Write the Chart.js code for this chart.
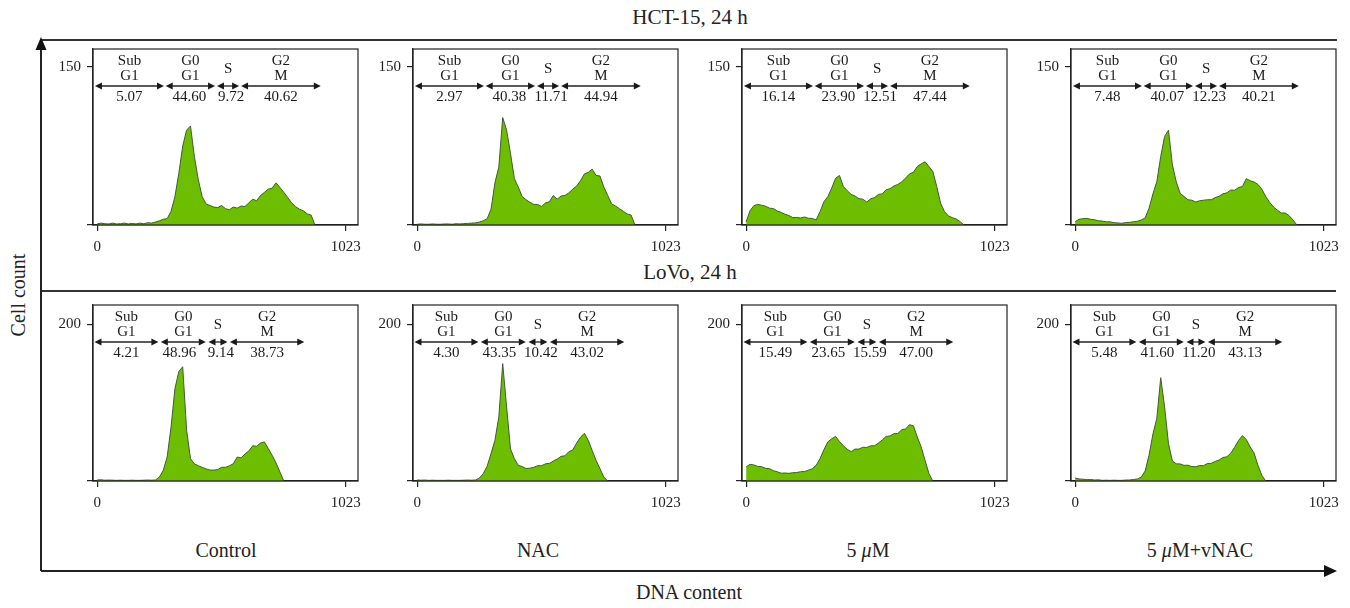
<!DOCTYPE html>
<html>
<head>
<meta charset="utf-8">
<script src="https://cdn.jsdelivr.net/npm/chart.js@4.4.1/dist/chart.umd.min.js"></script>
<style>
  body { margin: 0; width: 1350px; height: 608px; position: relative; overflow: hidden; background: #fff;
         font-family: "Liberation Serif", "DejaVu Serif", serif; color: #222; }
  canvas { position: absolute; }
  .txt { position: absolute; transform: translate(-50%, -50%); white-space: nowrap; font-size: 20px; }
  #frame { position: absolute; left: 0; top: 0; }
</style>
</head>
<body>
<svg id="frame" width="1350" height="608">
  <line x1="41" y1="40" x2="1337" y2="40" stroke="#333" stroke-width="1.8"/>
  <line x1="41" y1="291" x2="1336" y2="291" stroke="#333" stroke-width="1.8"/>
  <line x1="41" y1="571" x2="41" y2="48" stroke="#222" stroke-width="2"/>
  <polygon points="41,37 35.5,50 46.5,50" fill="#111"/>
  <line x1="41" y1="571" x2="1326" y2="571" stroke="#222" stroke-width="2"/>
  <polygon points="1337,571 1324,565 1324,577" fill="#111"/>
</svg>
<div class="txt" style="left:690px; top:17px; font-size:21px">HCT-15, 24 h</div>
<div class="txt" style="left:690px; top:272px; font-size:21px">LoVo, 24 h</div>
<div class="txt" style="left:18px; top:295px; transform: translate(-50%, -50%) rotate(-90deg)">Cell count</div>
<div class="txt" style="left:689px; top:592px">DNA content</div>
<div class="txt" style="left:226px; top:550px">Control</div>
<div class="txt" style="left:538px; top:550px">NAC</div>
<div class="txt" style="left:868px; top:550px">5 <i>μ</i>M</div>
<div class="txt" style="left:1200px; top:550px">5 <i>μ</i>M+vNAC</div>

<script>
// DNA channel grid (every 16 channels)
const channels = [0, 16, 32, 48, 64, 80, 96, 112, 128, 144, 160, 176, 192, 208, 224, 240, 256, 272, 288,
  304, 320, 336, 352, 368, 384, 400, 416, 432, 448, 464, 480, 496, 512, 528, 544, 560, 576, 592, 608,
  624, 640, 656, 672, 688, 704, 720, 736, 752, 768, 784, 800, 816, 832, 848, 864, 880, 896, 912];

// HCT-15 histograms (cell count per channel)
const hctControl = [1, 1.8, 1.2, 1, 1.8, 1, 1.2, 1.8, 1, 1.5, 1, 1.8, 1.2, 2.2, 1.8, 2.8, 4, 5.5, 6,
  13, 27, 49, 75, 90, 94, 65, 43, 27, 20, 18.5, 17, 16.5, 18.5, 15.5, 14.5, 17, 16, 18, 17.5,
  21, 24.5, 23, 28, 31, 34, 35, 40, 35.5, 31, 26, 21, 17.5, 15, 13.5, 10.5, 9.5, 0];
const hctNac = [0.7, 1, 0.7, 0.7, 1, 0.7, 0.7, 1, 1, 0.7, 1.2, 1, 1.3, 1.5, 1.8, 2, 2.8, 4, 6,
  15, 40, 55, 102, 90, 68, 44, 36, 27, 24, 21.5, 19.5, 19.5, 17.5, 21, 22, 28, 24.5, 27.5, 28,
  30.5, 34, 37, 42, 48.5, 50, 53, 47, 46.5, 36, 28, 20, 18, 15.5, 13, 10.5, 9.5, 0];
const hct5uM = [3, 13.6, 18.4, 19.5, 18.8, 17.8, 16, 15.6, 13.2, 12, 10.2, 9, 7, 7.2, 6.6, 7.6, 6.4, 6.2, 4.8,
  12.7, 22, 27, 35, 44.4, 47, 36.5, 32.5, 29, 27.5, 25, 24.5, 21.8, 24.8, 26, 29, 29.5, 33.5, 34.5, 37,
  38.5, 41, 44.5, 48.5, 50, 55.5, 58, 60, 55.5, 50.7, 36.5, 20.6, 12.7, 8.6, 7, 5.7, 3.2, 0];
const hct5uMNac = [3.2, 5.4, 6, 6.3, 5.4, 5, 4, 3.7, 3, 3, 2.2, 2, 1.6, 2.4, 2.5, 3.1, 3.5, 4.8, 6.7,
  15.9, 29.5, 41, 65, 84, 90, 57, 41, 30, 27, 24, 23.5, 21.8, 23, 23.5, 24, 24, 26, 27.2, 29.6,
  30.5, 33.2, 33, 35.5, 36.5, 44, 42, 40.8, 38.5, 34, 27, 21.5, 17, 14, 11.4, 11.4, 8.9, 4.8, 0];

// LoVo histograms
const lovoControl = [1.3, 1.5, 1, 1.2, 1, 0.8, 1, 0.8, 0.8, 1, 0.8, 0.8, 1, 1.2, 1, 1.3, 5, 13.6, 30.7,
  69, 118, 140, 146, 65, 28.6, 22, 19.5, 17.5, 15.5, 14, 14, 14.5, 17.5, 17.5, 19.5, 22, 30.7, 29.5, 34.5,
  38.5, 45, 44.5, 48.5, 50, 41.4, 32.8, 23, 11.5, 0];
const lovoNac = [1.3, 1, 1.2, 0.8, 1, 0.8, 0.8, 0.8, 1, 0.8, 0.8, 0.8, 1, 1.2, 1, 1.3, 3.8, 9.4, 19,
  35, 52, 82, 150, 94.6, 41, 28.6, 20, 18.5, 16, 16.4, 17.5, 19.6, 19.5, 22, 22.5, 25.5, 28, 31.5, 32.2,
  37.5, 39.5, 48.5, 56, 61, 52, 39, 26.4, 15.8, 5, 0];
const lovo5uM = [18, 21.3, 20.5, 18.6, 18.3, 16.2, 15.8, 13.2, 11.8, 10, 10.2, 9.8, 10.6, 10.8, 11.9, 12.1, 13.9, 15.6, 20,
  28.6, 40, 50, 54, 57, 50.5, 45, 40.5, 37.5, 40.8, 40.8, 43.2, 42.8, 45, 45, 48.5, 52.5, 57, 57.6, 60.5,
  60.8, 65.5, 66.5, 72, 70.5, 56.3, 43.5, 26.4, 9.4, 0];
const lovo5uMNac = [3.8, 2.6, 2.3, 1.7, 1.9, 1.3, 1.5, 0.8, 1, 0.8, 1, 0.8, 0.8, 1.2, 1.3, 1.9, 2.6, 5, 12.8,
  33, 60, 80, 132, 94.7, 47.8, 25.6, 22, 21.8, 20, 20.2, 18.4, 18.2, 19.8, 19.6, 22.4, 22.6, 25, 26.8, 30,
  31, 35.5, 43, 51.8, 58, 53, 43.5, 35.8, 20, 7.2, 0];

// gates (channel ranges) and phase names
const phaseNames = [['Sub', 'G1'], ['G0', 'G1'], ['S'], ['G2', 'M']];
const hctGates = [[-9, 275], [282, 485], [493, 584], [592, 920]];
const lovoGates = [[-11, 252], [262, 447], [458, 536], [546, 852]];

// phase percentages
const hctControlPct = ['5.07', '44.60', '9.72', '40.62'];
const hctNacPct = ['2.97', '40.38', '11.71', '44.94'];
const hct5uMPct = ['16.14', '23.90', '12.51', '47.44'];
const hct5uMNacPct = ['7.48', '40.07', '12.23', '40.21'];
const lovoControlPct = ['4.21', '48.96', '9.14', '38.73'];
const lovoNacPct = ['4.30', '43.35', '10.42', '43.02'];
const lovo5uMPct = ['15.49', '23.65', '15.59', '47.00'];
const lovo5uMNacPct = ['5.48', '41.60', '11.20', '43.13'];

const hctYTick = 150, hctYMax = 167;
const lovoYTick = 200, lovoYMax = 225;

const boxLefts = [93, 413, 742, 1071];
const BOX_W = 265, BOX_H = 176;
const FONT = '"Liberation Serif", "DejaVu Serif", serif';
// small horizontal nudges of the percentage labels, as in the original layout
const hctValueShift = [0, -1, 3, 0];
const lovoValueShift = [0, -4, 3, 0];

const panels = [
  { values: hctControl, pct: hctControlPct, gates: hctGates, shift: hctValueShift, tick: hctYTick, ymax: hctYMax, col: 0, top: 49 },
  { values: hctNac, pct: hctNacPct, gates: hctGates, shift: hctValueShift, tick: hctYTick, ymax: hctYMax, col: 1, top: 49 },
  { values: hct5uM, pct: hct5uMPct, gates: hctGates, shift: hctValueShift, tick: hctYTick, ymax: hctYMax, col: 2, top: 49 },
  { values: hct5uMNac, pct: hct5uMNacPct, gates: hctGates, shift: hctValueShift, tick: hctYTick, ymax: hctYMax, col: 3, top: 49 },
  { values: lovoControl, pct: lovoControlPct, gates: lovoGates, shift: lovoValueShift, tick: lovoYTick, ymax: lovoYMax, col: 0, top: 305 },
  { values: lovoNac, pct: lovoNacPct, gates: lovoGates, shift: lovoValueShift, tick: lovoYTick, ymax: lovoYMax, col: 1, top: 305 },
  { values: lovo5uM, pct: lovo5uMPct, gates: lovoGates, shift: lovoValueShift, tick: lovoYTick, ymax: lovoYMax, col: 2, top: 305 },
  { values: lovo5uMNac, pct: lovo5uMNacPct, gates: lovoGates, shift: lovoValueShift, tick: lovoYTick, ymax: lovoYMax, col: 3, top: 305 }
];

// box around plot + gate arrows and labels
const gatePlugin = {
  id: 'gates',
  afterDatasetsDraw(chart, args, opts) {
    const { ctx, chartArea, scales } = chart;
    const top = chartArea.top;
    ctx.save();
    ctx.strokeStyle = '#222';
    ctx.lineWidth = 1.2;
    ctx.strokeRect(chartArea.left, chartArea.top, chartArea.right - chartArea.left, chartArea.bottom - chartArea.top);

    ctx.fillStyle = '#1a1a1a';
    ctx.font = `15px ${FONT}`;
    ctx.textAlign = 'center';
    ctx.textBaseline = 'middle';
    opts.gates.forEach((g, i) => {
      const x1 = scales.x.getPixelForValue(g[0]);
      const x2 = scales.x.getPixelForValue(g[1]);
      const cx = (x1 + x2) / 2;
      const y = top + 37;
      const names = phaseNames[i];
      if (names.length === 2) {
        ctx.fillText(names[0], cx, top + 12);
        ctx.fillText(names[1], cx, top + 27);
      } else {
        ctx.fillText(names[0], cx, top + 20);
      }
      ctx.fillText(opts.pct[i], cx + opts.shift[i], top + 48);

      ctx.beginPath();
      ctx.lineWidth = 1.3;
      ctx.moveTo(x1 + 5, y);
      ctx.lineTo(x2 - 5, y);
      ctx.stroke();
      ctx.beginPath();
      ctx.moveTo(x1, y); ctx.lineTo(x1 + 7, y - 3.5); ctx.lineTo(x1 + 7, y + 3.5); ctx.closePath();
      ctx.moveTo(x2, y); ctx.lineTo(x2 - 7, y - 3.5); ctx.lineTo(x2 - 7, y + 3.5); ctx.closePath();
      ctx.fill();
    });
    ctx.restore();
  }
};

function noPadding(s) {
  s.paddingTop = 0;
  s.paddingBottom = 0;
  s.paddingLeft = 0;
  s.paddingRight = 0;
}

function drawPanel(p, idx) {
  const canvas = document.createElement('canvas');
  canvas.width = 52 + BOX_W + 12;
  canvas.height = 10 + BOX_H + 32;
  canvas.style.left = (boxLefts[p.col] - 52) + 'px';
  canvas.style.top = (p.top - 10) + 'px';
  document.body.appendChild(canvas);

  const points = p.values.map((v, i) => ({ x: channels[i], y: v }));

  new Chart(canvas.getContext('2d'), {
    type: 'line',
    data: {
      datasets: [{
        data: points,
        borderColor: '#43573f',
        borderWidth: 1,
        backgroundColor: '#6dbe00',
        fill: 'origin',
        pointRadius: 0,
        tension: 0
      }]
    },
    options: {
      responsive: false,
      animation: false,
      devicePixelRatio: 1,
      events: [],
      layout: { padding: { left: 12, top: 10, right: 12, bottom: 0 } },
      plugins: {
        legend: { display: false },
        tooltip: { enabled: false },
        gates: { gates: p.gates, pct: p.pct, shift: p.shift }
      },
      scales: {
        x: {
          type: 'linear',
          min: -17,
          max: 1073,
          afterFit: s => { s.height = 32; noPadding(s); },
          afterBuildTicks: s => { s.ticks = [{ value: 0 }, { value: 1023 }]; },
          ticks: {
            color: '#222', font: { family: FONT, size: 15 }, padding: 7, maxRotation: 0, autoSkip: false,
            callback: v => String(v)
          },
          grid: { display: true, drawOnChartArea: false, drawTicks: true, tickLength: 6, color: '#222', lineWidth: 1.2 },
          border: { display: true, color: '#222', width: 1.2 }
        },
        y: {
          min: 0,
          max: p.ymax,
          afterFit: s => { s.width = 40; noPadding(s); },
          afterBuildTicks: s => { s.ticks = [{ value: 0 }, { value: p.tick }]; },
          ticks: {
            color: '#222', font: { family: FONT, size: 15 }, padding: 6,
            callback: v => (v === 0 ? '' : String(v))
          },
          grid: { display: true, drawOnChartArea: false, drawTicks: true, tickLength: 6, color: '#222', lineWidth: 1.2 },
          border: { display: true, color: '#222', width: 1.2 }
        }
      }
    },
    plugins: [gatePlugin]
  });
}

window.onload = () => {
  panels.forEach(drawPanel);
};
</script>
</body>
</html>
